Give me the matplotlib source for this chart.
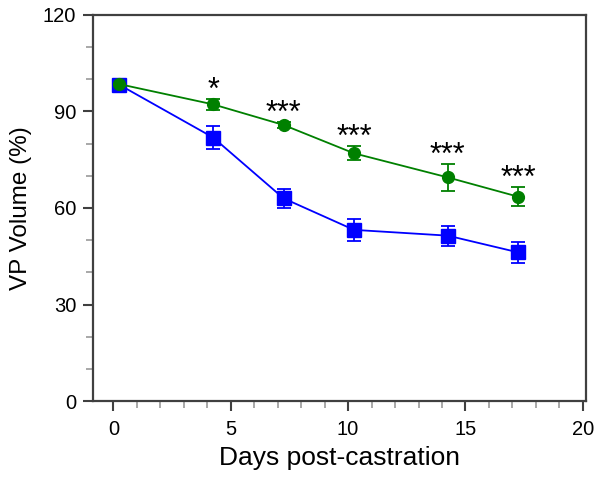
import matplotlib.pyplot as plt
from matplotlib.ticker import MultipleLocator

days = [0.25, 4.25, 7.25, 10.25, 14.25, 17.25]
green_y = [98.5, 92.2, 85.8, 77.0, 69.5, 63.5]
green_err = [1.0, 1.7, 1.0, 2.2, 4.1, 3.0]
blue_y = [98.3, 81.9, 63.0, 53.2, 51.4, 46.2]
blue_err = [1.2, 3.6, 3.0, 3.4, 3.1, 3.2]
stars = ['', '*', '***', '***', '***', '***']

plt.rcParams['font.family'] = ['Liberation Sans', 'DejaVu Sans']

fig = plt.figure(figsize=(6, 4.82), dpi=100)
ax = fig.add_axes([0.155, 0.168, 0.821, 0.801])

ax.errorbar(days, blue_y, yerr=blue_err, color='#0000ff', marker='s', markersize=9.5,
            lw=1.3, capsize=5, capthick=1.3, elinewidth=1.3)
ax.errorbar(days, green_y, yerr=green_err, color='#008000', marker='o', markersize=8.5,
            lw=1.3, capsize=5, capthick=1.3, elinewidth=1.3)

for x, y, e, s in zip(days, green_y, green_err, stars):
    if s:
        ax.annotate(s, (x, y + e), xytext=(0, -5), textcoords='offset points',
                    ha='center', va='bottom', fontsize=22)

ax.set_xlim(-0.87, 20.12)
ax.set_ylim(0, 120)
ax.xaxis.set_major_locator(MultipleLocator(5))
ax.xaxis.set_minor_locator(MultipleLocator(1))
ax.yaxis.set_major_locator(MultipleLocator(30))
ax.yaxis.set_minor_locator(MultipleLocator(10))
ax.tick_params(which='major', length=7, width=1.5, color='#404040', labelsize=14.5, pad=5)
ax.tick_params(axis='x', which='major', pad=7)
ax.tick_params(which='minor', length=5, width=1.2, color='#999999')
for sp in ax.spines.values():
    sp.set_color('#404040')
    sp.set_linewidth(1.6)

ax.set_xlabel('Days post-castration', fontsize=19, labelpad=5)
ax.set_ylabel('VP Volume (%)', fontsize=17.5, labelpad=8)

fig.savefig('out.png', dpi=100)
